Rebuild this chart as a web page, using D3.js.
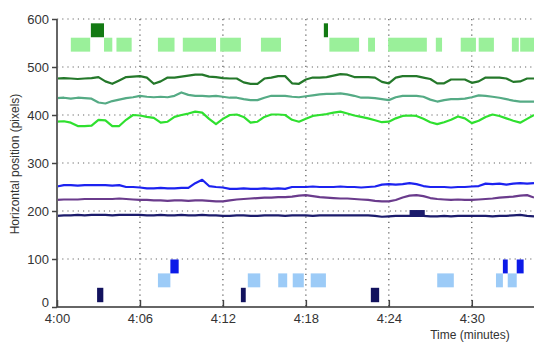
<!DOCTYPE html>
<html>
<head>
<meta charset="utf-8">
<script src="https://cdn.jsdelivr.net/npm/d3@7"></script>
<style>
  body { margin: 0; background: #fff; }
  svg { display: block; }
  text { font-family: Arial, "Liberation Sans", sans-serif; fill: #333; }
</style>
</head>
<body>
<figure id="track-chart" style="margin:0"></figure>
<script>
// minutes after 4:00
const minutes = [0, 0.5, 1, 1.5, 2, 2.5, 3, 3.5, 4, 4.5, 5, 5.5, 6, 6.5, 7, 7.5, 8, 8.5, 9, 9.5,
  10, 10.5, 11, 11.5, 12, 12.5, 13, 13.5, 14, 14.5, 15, 15.5, 16, 16.5, 17, 17.5, 18, 18.5, 19, 19.5,
  20, 20.5, 21, 21.5, 22, 22.5, 23, 23.5, 24, 24.5, 25, 25.5, 26, 26.5, 27, 27.5, 28, 28.5, 29, 29.5,
  30, 30.5, 31, 31.5, 32, 32.5, 33, 33.5, 34, 34.5];

const darkGreen = [476, 477, 476, 475, 476, 477, 479, 470, 465, 472, 479, 480, 481, 478, 465, 470, 478, 478, 480, 482,
  484, 484, 480, 479, 477, 476, 476, 468, 465, 465, 476, 478, 481, 481, 466, 465, 474, 478, 478, 479,
  482, 485, 484, 479, 479, 479, 478, 469, 466, 478, 481, 481, 481, 478, 475, 466, 466, 474, 474, 474,
  467, 470, 478, 478, 478, 476, 469, 470, 476, 476];
const teal = [435, 436, 434, 436, 435, 434, 426, 424, 429, 432, 435, 437, 440, 438, 437, 438, 437, 440, 447, 442,
  440, 440, 439, 440, 438, 436, 436, 433, 431, 431, 436, 440, 440, 440, 438, 437, 439, 441, 443, 444,
  444, 445, 443, 440, 436, 436, 435, 433, 431, 437, 440, 440, 440, 438, 432, 428, 431, 433, 433, 434,
  437, 441, 440, 438, 436, 433, 430, 428, 428, 428];
const brightGreen = [386, 387, 384, 377, 377, 378, 390, 389, 377, 377, 390, 400, 399, 396, 394, 384, 386, 396, 400, 403,
  407, 405, 392, 381, 392, 400, 401, 396, 384, 386, 396, 401, 401, 400, 390, 386, 392, 398, 400, 402,
  405, 407, 403, 399, 396, 393, 389, 385, 386, 393, 398, 399, 398, 392, 385, 381, 385, 390, 397, 393,
  383, 388, 396, 401, 398, 393, 388, 384, 392, 400];
const blue = [251, 254, 254, 253, 254, 254, 254, 254, 253, 254, 250, 250, 249, 247, 247, 248, 247, 247, 248, 248,
  258, 265, 252, 250, 249, 246, 246, 247, 246, 246, 247, 246, 247, 246, 250, 250, 250, 251, 250, 250,
  250, 251, 250, 250, 249, 250, 251, 255, 256, 255, 256, 258, 256, 252, 250, 250, 250, 249, 250, 250,
  251, 252, 257, 256, 257, 255, 257, 258, 257, 258];
const purple = [223, 224, 224, 224, 225, 225, 225, 225, 225, 226, 225, 224, 223, 223, 222, 222, 221, 222, 222, 221,
  222, 222, 221, 220, 220, 222, 224, 225, 226, 227, 228, 228, 229, 229, 230, 232, 233, 231, 229, 228,
  227, 226, 226, 225, 224, 223, 221, 220, 220, 223, 228, 232, 233, 231, 227, 225, 224, 223, 224, 223,
  223, 224, 225, 226, 228, 229, 230, 232, 233, 228];
const navy = [190, 191, 191, 192, 191, 192, 192, 192, 191, 192, 192, 192, 192, 191, 191, 192, 191, 191, 192, 191,
  191, 192, 191, 191, 190, 190, 191, 191, 190, 190, 191, 191, 191, 190, 191, 191, 191, 190, 191, 191,
  191, 191, 191, 191, 191, 191, 190, 188, 189, 190, 190, 190, 190, 190, 189, 189, 190, 189, 190, 190,
  190, 190, 190, 189, 190, 190, 191, 192, 190, 189];

// event blocks: [start minute, end minute]
const lightGreenSpans = [[1.0, 2.4], [3.4, 4.0], [4.3, 5.4], [7.3, 8.5], [9.1, 11.5], [11.8, 13.3], [14.75, 16.2],
  [19.7, 21.85], [22.5, 23.0], [23.95, 26.75], [27.4, 27.85], [29.2, 30.3], [30.5, 31.6], [32.9, 33.4], [33.5, 34.5]];
const darkGreenSpans = [[2.45, 3.4], [19.3, 19.6]];
const lightBlueSpans = [[7.3, 8.2], [13.8, 14.7], [16.0, 16.65], [17.05, 17.85], [18.35, 19.45], [27.5, 28.7],
  [31.75, 32.25], [32.6, 33.25]];
const blueSpans = [[8.2, 8.8], [32.25, 32.6], [33.25, 33.75]];
const navySpans = [[2.9, 3.35], [13.3, 13.65], [22.7, 23.3]];
const navyBump = [[25.5, 26.6]];

const bands = {
  lightGreen: [532, 561], darkGreen: [562, 591],
  blue: [70, 99], lightBlue: [41, 70], navy: [10, 40], navyBump: [191, 202]
};

const xTicks = [0, 6, 12, 18, 24, 30];
const yTicks = [0, 100, 200, 300, 400, 500, 600];

const W = 534, H = 342;
const mLeft = 57, mTop = 19, mBottom = 307, mRight = 534;

const svg = d3.select('#track-chart').append('svg').attr('width', W).attr('height', H);

const x = d3.scaleLinear().domain([0, 34.5]).range([mLeft, mRight]);
const y = d3.scaleLinear().domain([0, 600]).range([mBottom, mTop]);

// dotted grid
svg.append('g')
  .selectAll('line')
  .data(yTicks.filter(d => d > 0))
  .enter()
  .append('line')
  .attr('x1', mLeft).attr('x2', mRight)
  .attr('y1', d => y(d)).attr('y2', d => y(d))
  .attr('stroke', '#666').attr('stroke-width', 1.2).attr('stroke-dasharray', '1.2,4');

svg.append('g')
  .selectAll('line')
  .data(xTicks.filter(d => d > 0))
  .enter()
  .append('line')
  .attr('x1', d => x(d)).attr('x2', d => x(d))
  .attr('y1', mTop).attr('y2', mBottom)
  .attr('stroke', '#555').attr('stroke-width', 1.2).attr('stroke-dasharray', '1.2,4');

// blocks
function drawSpans(spans, band, color) {
  svg.append('g')
    .selectAll('rect')
    .data(spans)
    .enter()
    .append('rect')
    .attr('x', d => x(d[0]))
    .attr('width', d => x(d[1]) - x(d[0]))
    .attr('y', y(band[1]))
    .attr('height', y(band[0]) - y(band[1]))
    .attr('fill', color);
}
drawSpans(lightGreenSpans, bands.lightGreen, '#9af09a');
drawSpans(darkGreenSpans, bands.darkGreen, '#137a13');
drawSpans(lightBlueSpans, bands.lightBlue, '#9ccbf7');
drawSpans(blueSpans, bands.blue, '#0c1ae8');
drawSpans(navySpans, bands.navy, '#12125e');

// position traces
const line = d3.line().x((d, i) => x(minutes[i])).y(d => y(d));
const traces = [
  { values: darkGreen, color: '#24782a' },
  { values: teal, color: '#55ab85' },
  { values: brightGreen, color: '#2fe02f' },
  { values: blue, color: '#1c22f0' },
  { values: purple, color: '#6a3b8c' },
  { values: navy, color: '#1c1c6c' }
];
svg.append('g')
  .selectAll('path')
  .data(traces)
  .enter()
  .append('path')
  .attr('d', d => line(d.values))
  .attr('fill', 'none')
  .attr('stroke', d => d.color)
  .attr('stroke-width', 2.2)
  .attr('stroke-linejoin', 'round');

drawSpans(navyBump, bands.navyBump, '#1c1c6c');

// axes
const yAxis = d3.axisLeft(y).tickValues(yTicks).tickSize(5).tickPadding(3);
const yG = svg.append('g').attr('transform', `translate(${mLeft},0)`).call(yAxis);
const xAxis = d3.axisBottom(x).tickValues(xTicks).tickSize(-7).tickPadding(7)
  .tickFormat(d => `4:${String(d).padStart(2, '0')}`);
const xG = svg.append('g').attr('transform', `translate(0,${mBottom})`).call(xAxis);

[yG, xG].forEach(g => {
  g.select('.domain').attr('stroke', '#666').attr('stroke-width', 2);
  g.selectAll('.tick line').attr('stroke', '#444').attr('stroke-width', 1.5);
  g.selectAll('.tick text').style('font-size', '13px').attr('fill', '#333');
});
yG.select('.domain').attr('d', `M0,${mTop}V${mBottom}`);
xG.select('.domain').attr('d', `M${mLeft},0H${mRight}`);
// lift the "0" label so it clears the "4:00" label underneath
yG.selectAll('.tick').filter(d => d === 0).select('text').attr('dy', '-0.05em');

svg.append('text')
  .attr('x', 470).attr('y', 339)
  .attr('text-anchor', 'middle')
  .style('font-size', '12px')
  .text('Time (minutes)');

svg.append('text')
  .attr('transform', 'translate(19,164) rotate(-90)')
  .attr('text-anchor', 'middle')
  .style('font-size', '12px')
  .text('Horizontal position (pixels)');
</script>
</body>
</html>
